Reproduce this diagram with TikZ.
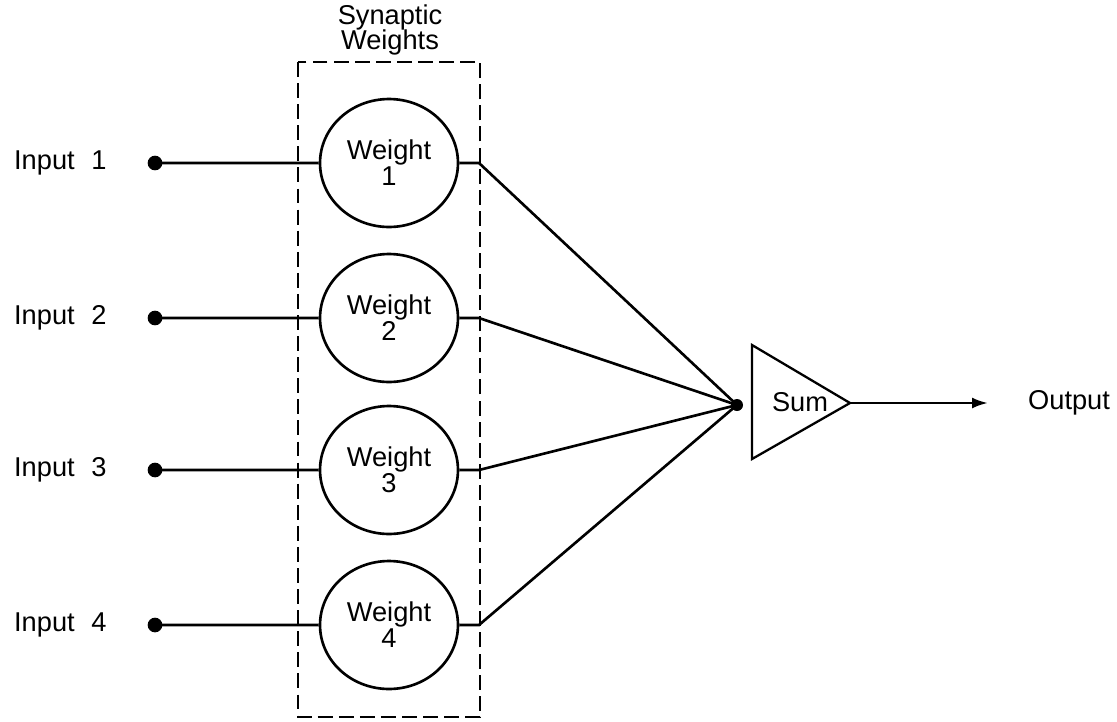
\documentclass[tikz,border=0pt]{standalone}
\usepackage{fontspec}
\setmainfont{Liberation Sans}
\usetikzlibrary{arrows.meta,shapes.geometric}

\tikzset{
  weight/.style={draw,ellipse,minimum width=2.76cm,minimum height=2.56cm,inner sep=0pt,align=center},
  synbox/.style={dash pattern=on 8.5pt off 3.5pt}
}

\begin{document}
\begin{tikzpicture}[x=0.02cm,y=-0.02cm,line width=1.5pt,font=\fontsize{15.5}{14.7}\selectfont]

\useasboundingbox (0,0) rectangle (1117,721);

% synaptic weights
\draw[synbox] (298,62) rectangle (480,717);
\node[align=center] (syn) at (390,30) {Synaptic\\Weights};

% summing junction
\coordinate (join) at (737,405);
\coordinate (apex) at (850,403);
\draw[line width=1.3pt] (752,345) -- (752,459) -- (apex) -- cycle;
\node (sum) at (800,402) {Sum};
\fill (join) circle (0.12cm);

\foreach \i/\y in {1/163,2/318,3/470,4/625}{
  \node[anchor=west] (in\i) at (7,\y) {Input\,\, \i};
  \coordinate (dot\i) at (155,\y);
  \node[weight] (w\i) at (389,\y) {Weight\\\i};
  \coordinate (out\i) at (479,\y);
  \filldraw (dot\i) circle (0.12cm) -- (w\i.west);
  \draw (w\i.east) -- (out\i) -- (join);
}

\coordinate (tip) at (988,403);
\draw[-{Latex[length=0.32cm,width=0.22cm]}] (apex) -- (tip);
\node[anchor=west] (out) at (1021,403) {Output};

\end{tikzpicture}
\end{document}
